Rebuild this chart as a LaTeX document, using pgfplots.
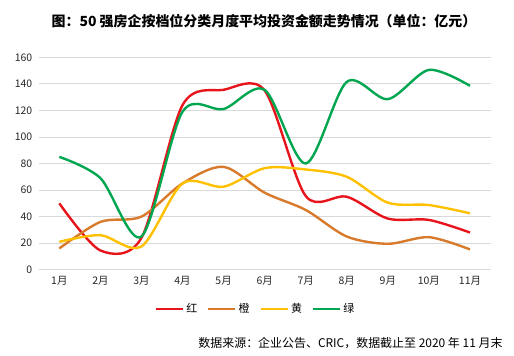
\documentclass[border=0pt]{standalone}
\usepackage{fontspec}
\setmainfont{Noto Sans CJK SC}
\usepackage{pgfplots}
\pgfplotsset{compat=1.18}
\definecolor{cred}{HTML}{E8141C}
\definecolor{corange}{HTML}{D77A2B}
\definecolor{cyellow}{HTML}{FFC000}
\definecolor{cgreen}{HTML}{00A650}
\definecolor{cgrid}{HTML}{D9D9D9}
\begin{document}
\begin{tikzpicture}[x=1bp,y=1bp]
\path (0,0) rectangle (514,355);
\node[font=\fontsize{14}{16}\selectfont\bfseries] at (264,334.3) {图：50 强房企按档位分类月度平均投资金额走势情况（单位：亿元）};
\begin{axis}[
  at={(38.8bp,85.3bp)}, anchor=south west,
  scale only axis, width=451.7bp, height=212.4bp,
  xmin=0.5, xmax=11.5, ymin=0, ymax=160,
  xtick={1,...,11},
  xticklabels={1月,2月,3月,4月,5月,6月,7月,8月,9月,10月,11月},
  ytick={0,20,...,160},
  ymajorgrids, grid style={cgrid, line width=0.8pt},
  axis line style={draw=none},
  major tick length=0pt,
  tick label style={font=\fontsize{10.5}{12}\selectfont, text=black!85},
  /pgf/number format/assume math mode=true,
  yticklabel style={xshift=-3bp},
  xticklabel style={yshift=-3bp},
  every axis plot/.append style={line width=2.4pt, smooth, tension=0.5, no marks},
  legend style={at={(0.48,-0.185)}, anchor=center, draw=none, legend columns=4,
    font=\fontsize{11}{12}\selectfont, /tikz/every even column/.append style={column sep=8bp}},
  legend image code/.code={\draw[line width=2.4pt] (0bp,0bp) -- (27bp,0bp);},
]
\addplot[cred] coordinates {(1,50)(2,14.5)(3,24)(4,124)(5,135.5)(6,135)(7,55.5)(8,55)(9,38.5)(10,37.5)(11,28)};
\addlegendentry{红}
\addplot[corange] coordinates {(1,16)(2,36)(3,40)(4,65)(5,77.5)(6,58)(7,45)(8,25)(9,19.5)(10,24.5)(11,15.3)};
\addlegendentry{橙}
\addplot[cyellow] coordinates {(1,21)(2,26)(3,17.5)(4,65)(5,62.5)(6,76.5)(7,75.5)(8,70)(9,50.5)(10,48.7)(11,42.5)};
\addlegendentry{黄}
\addplot[cgreen] coordinates {(1,85)(2,69)(3,25)(4,119)(5,121)(6,135.5)(7,80)(8,141.5)(9,128.5)(10,150.5)(11,138.5)};
\addlegendentry{绿}
\end{axis}
\node[font=\fontsize{12}{14}\selectfont, anchor=east] at (506,12.3) {数据来源：企业公告、CRIC，数据截止至 2020 年 11 月末};
\end{tikzpicture}
\end{document}
